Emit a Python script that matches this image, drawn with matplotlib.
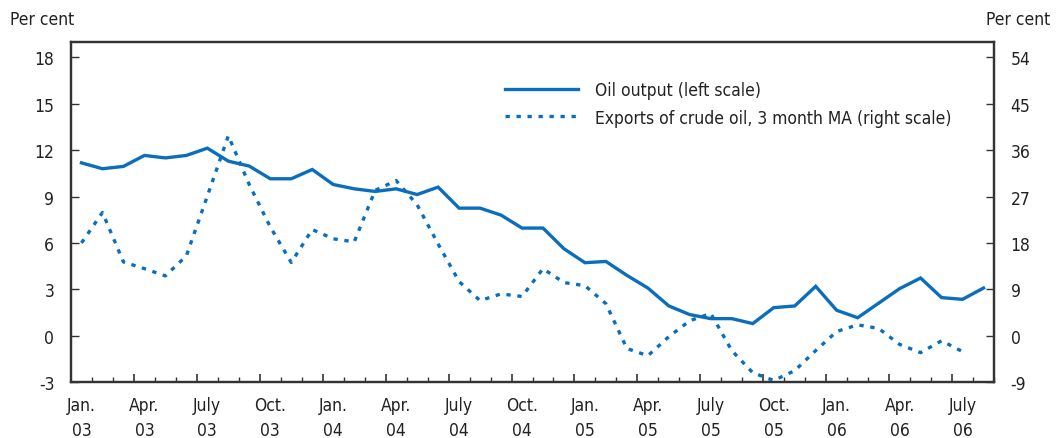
import matplotlib
matplotlib.use("Agg")
import matplotlib.pyplot as plt
import numpy as np

plt.rcParams['font.family'] = ['DejaVu Sans']
plt.rcParams['font.stretch'] = 'condensed'

# Monthly data, Jan 2003 .. Aug 2006
oil_output = [11.18, 10.8, 10.95, 11.66, 11.5, 11.66, 12.13, 11.29, 10.97, 10.15,
              10.15, 10.75, 9.78, 9.5, 9.33, 9.5, 9.13, 9.61, 8.25, 8.25,
              7.8, 6.96, 6.96, 5.62, 4.72, 4.80, 3.9, 3.08, 1.92, 1.36,
              1.1, 1.1, 0.78, 1.81, 1.92, 3.19, 1.64, 1.16, 2.1, 3.04,
              3.73, 2.46, 2.35, 3.08]
crude_exports_ma = [18.0, 23.9, 14.3, 13.0, 11.6, 15.5, 27.1, 38.8, 29.3, 21.1,
                    14.2, 20.6, 18.8, 18.2, 28.2, 30.1, 25.4, 17.8, 10.5, 6.8,
                    8.1, 7.6, 13.0, 10.3, 9.7, 6.2, -2.5, -3.9, -0.2, 2.9,
                    4.3, -2.9, -7.2, -8.7, -6.8, -2.9, 0.8, 2.1, 1.4, -1.7,
                    -3.3, -1.0, -3.1]
tick_labels = ["Jan.\n03", "Apr.\n03", "July\n03", "Oct.\n03",
               "Jan.\n04", "Apr.\n04", "July\n04", "Oct.\n04",
               "Jan.\n05", "Apr.\n05", "July\n05", "Oct.\n05",
               "Jan.\n06", "Apr.\n06", "July\n06"]
left_ticks = [-3, 0, 3, 6, 9, 12, 15, 18]
right_ticks = [-9, 0, 9, 18, 27, 36, 45, 54]

blue = "#0A6EBD"
txt = "#222222"
spine_c = "#333333"

fig = plt.figure(figsize=(10.56, 4.39), dpi=100)
ax = fig.add_axes([71/1056, 1-383/439, (994-71)/1056, (383-43)/439])
ax2 = ax.twinx()

x1 = np.arange(len(oil_output))
x2 = np.arange(len(crude_exports_ma))
l1, = ax.plot(x1, oil_output, color=blue, lw=2.4, solid_joinstyle='miter',
              label="Oil output (left scale)")
l2, = ax2.plot(x2, crude_exports_ma, color=blue, lw=2.4,
               linestyle=(0, (1.3, 2.0)),
               label="Exports of crude oil, 3 month MA (right scale)")

n = len(oil_output)
ax.set_xlim(-0.5, n - 0.5)
ax.set_ylim(-3, 19)
ax2.set_ylim(-9, 57)

ax.set_yticks(left_ticks)
ax.set_yticklabels([str(v) for v in left_ticks])
ax2.set_yticks(right_ticks)
ax2.set_yticklabels([str(v) for v in right_ticks])

ax.set_xticks(np.arange(-0.5, n, 3))
ax.set_xticklabels([])
ax.set_xticks(np.arange(-0.5, n, 1), minor=True)
ax.tick_params(axis='x', which='major', direction='in', length=6, width=1.2, color=spine_c)
ax.tick_params(axis='x', which='minor', direction='in', length=3.5, width=1.0, color=spine_c)
ax.tick_params(axis='y', direction='in', length=6, width=1.0, color=spine_c,
               labelsize=12.5, labelcolor=txt, pad=12)
ax2.tick_params(axis='y', direction='in', length=6, width=1.0, color=spine_c,
                labelsize=12.5, labelcolor=txt, pad=12)

sec = ax.secondary_xaxis('bottom')
sec.set_xticks(np.arange(0, n, 3))
sec.set_xticklabels(tick_labels, linespacing=1.5)
sec.tick_params(length=0, labelsize=12.5, labelcolor=txt, pad=10)
sec.spines['bottom'].set_visible(False)

for a in (ax, ax2):
    for s in a.spines.values():
        s.set_color(spine_c)
        s.set_linewidth(1.6)

fig.text(10/1056, 1-20/439, "Per cent", fontsize=12.5, color=txt, va='center', ha='left')
fig.text(1050/1056, 1-20/439, "Per cent", fontsize=12.5, color=txt, va='center', ha='right')

leg = ax.legend(handles=[l1, l2], loc='upper left',
                bbox_to_anchor=(505/1056, 1-82/439), bbox_transform=fig.transFigure,
                frameon=False, fontsize=12.5, handlelength=4.2, handletextpad=1.0,
                labelspacing=0.55, borderaxespad=0, borderpad=0)
for t in leg.get_texts():
    t.set_color(txt)

fig.savefig("out.png", dpi=100)
